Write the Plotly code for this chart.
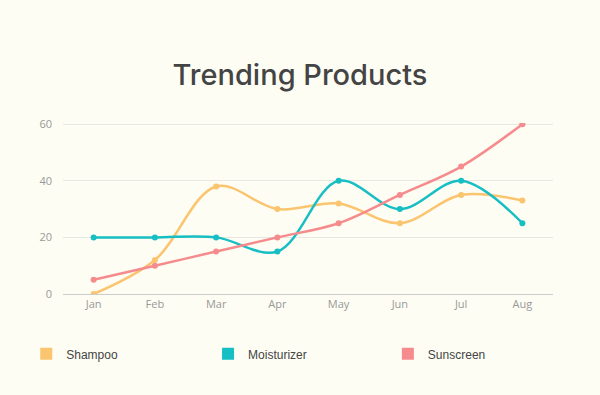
import plotly.graph_objects as go

months = ["Jan", "Feb", "Mar", "Apr", "May", "Jun", "Jul", "Aug"]
shampoo = [0, 12, 38, 30, 32, 25, 35, 33]
moisturizer = [20, 20, 20, 15, 40, 30, 40, 25]
sunscreen = [5, 10, 15, 20, 25, 35, 45, 60]
names = ["Shampoo", "Moisturizer", "Sunscreen"]
colors = ["#FBC46E", "#17BEC3", "#F68B8D"]
y_ticks = [0, 20, 40, 60]

fig = go.Figure()
for name, vals, col in zip(names, [shampoo, moisturizer, sunscreen], colors):
    fig.add_trace(go.Scatter(
        x=months, y=vals, mode="lines+markers", name=name,
        line=dict(color=col, width=2.5, shape="spline", smoothing=1.0),
        marker=dict(color=col, size=6), showlegend=False))

legend_ids = ["legend", "legend2", "legend3"]
legend_x = [-0.075, 0.296, 0.663]
for name, col, lid in zip(names, colors, legend_ids):
    fig.add_trace(go.Scatter(
        x=[None], y=[None], mode="markers", name=name, legend=lid,
        marker=dict(color=col, size=12, symbol="square"), showlegend=True))

bg = "#FDFDF3"
leg_font = dict(family="Liberation Sans, Arial, sans-serif", size=12, color="#444444")
legend_common = dict(orientation="h", y=-0.35, yanchor="middle", xanchor="left",
                     itemclick=False, font=leg_font, bgcolor="rgba(0,0,0,0)")
layout_legends = {}
for lid, lx in zip(legend_ids, legend_x):
    layout_legends[lid] = dict(legend_common, x=lx)

fig.update_layout(
    width=600, height=395,
    paper_bgcolor=bg, plot_bgcolor=bg,
    margin=dict(l=63, r=47, t=123, b=101),
    title=dict(text="Trending Products", x=0.5, xanchor="center", y=0.81, yanchor="middle",
               font=dict(family="Inter, Lato, sans-serif", size=29, color="#444444", weight=500)),
    xaxis=dict(type="category", range=[-0.5, 7.5], showgrid=False, showline=True,
               linecolor="#CCCCCC", linewidth=1, ticks="",
               tickfont=dict(family="Open Sans", size=11, color="#999999"), fixedrange=True),
    yaxis=dict(range=[0, 60.4], tickvals=y_ticks, showgrid=True, gridcolor="#E8E8E2", gridwidth=1,
               zeroline=False, showline=False, ticks="", ticklabelstandoff=10,
               tickfont=dict(family="Open Sans", size=11, color="#999999"), fixedrange=True),
    showlegend=True,
    **layout_legends,
)
fig.write_html("out.html", config={"displayModeBar": False},
               post_script="document.body.style.margin='0';document.body.style.background='%s';" % bg)
